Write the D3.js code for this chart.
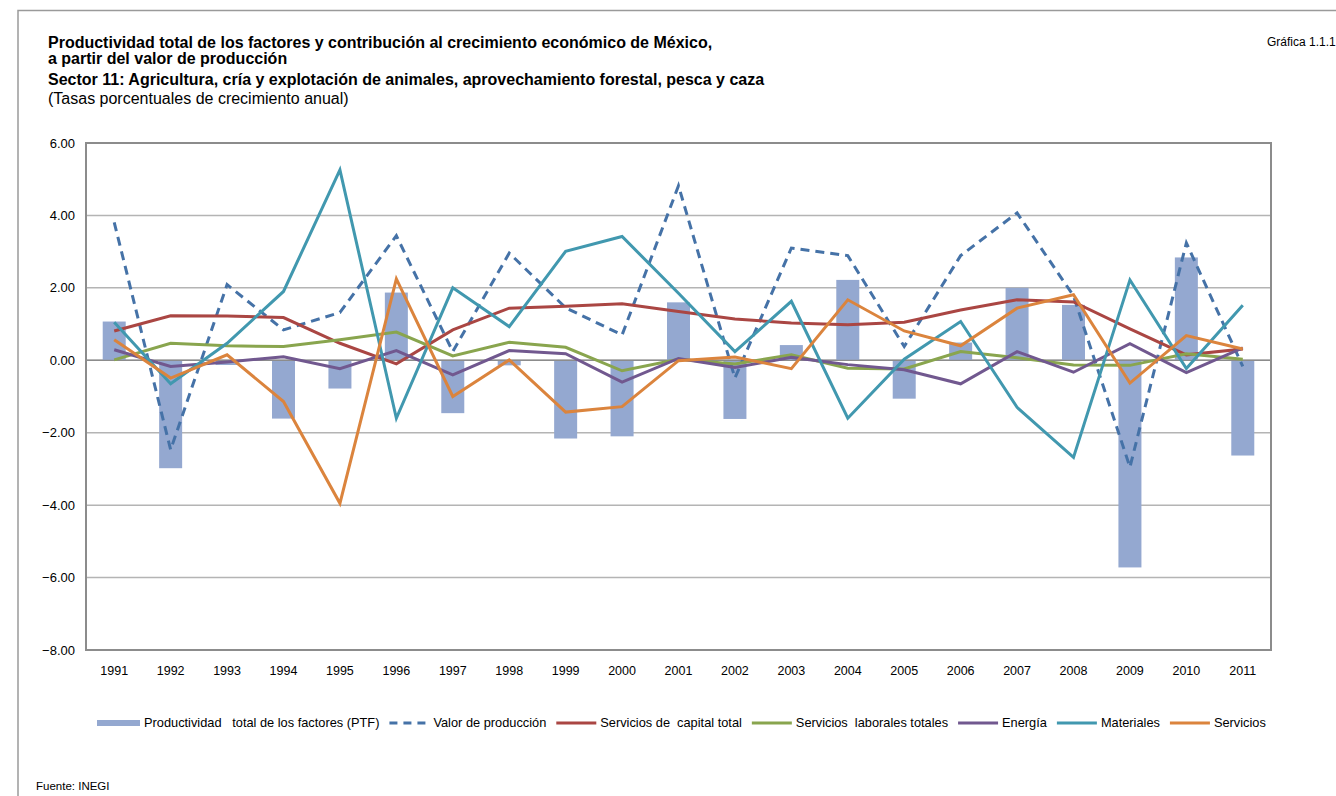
<!DOCTYPE html>
<html>
<head>
<meta charset="utf-8">
<script src="https://cdnjs.cloudflare.com/ajax/libs/d3/7.8.5/d3.min.js"></script>
<style>
  body { margin: 0; background: #fff; }
  text { font-family: "Liberation Sans", Arial, sans-serif; fill: #000; }
</style>
</head>
<body>
<script>
// data
var years = ["1991","1992","1993","1994","1995","1996","1997","1998","1999","2000","2001",
             "2002","2003","2004","2005","2006","2007","2008","2009","2010","2011"];

var ptf        = [1.07,-2.98,-0.13,-1.61,-0.78,1.87,-1.46,-0.14,-2.16,-2.10,1.60,
                  -1.62,0.42,2.22,-1.06,0.49,2.00,1.53,-5.72,2.84,-2.63];
var valorProd  = [3.81,-2.47,2.09,0.84,1.32,3.44,0.24,2.96,1.45,0.70,4.82,
                  -0.49,3.10,2.89,0.38,2.89,4.07,1.78,-2.95,3.24,-0.17];
var capital    = [0.81,1.23,1.22,1.18,0.47,-0.10,0.84,1.44,1.49,1.56,1.35,
                  1.14,1.03,0.98,1.05,1.39,1.67,1.61,0.87,0.15,0.31];
var laborales  = [0.01,0.47,0.40,0.38,0.57,0.78,0.12,0.50,0.36,-0.29,0.03,
                  -0.10,0.15,-0.22,-0.24,0.24,0.07,-0.13,-0.14,0.18,0.03];
var energia    = [0.29,-0.17,-0.05,0.10,-0.23,0.27,-0.40,0.27,0.18,-0.60,0.05,
                  -0.20,0.08,-0.12,-0.26,-0.65,0.24,-0.33,0.46,-0.34,0.34];
var materiales = [1.05,-0.65,0.47,1.90,5.26,-1.60,2.00,0.93,3.01,3.42,1.85,
                  0.24,1.63,-1.60,0.03,1.07,-1.30,-2.68,2.22,-0.23,1.52];
var servicios  = [0.57,-0.49,0.15,-1.14,-3.95,2.25,-1.00,0.01,-1.43,-1.28,-0.01,
                  0.09,-0.23,1.67,0.81,0.40,1.44,1.81,-0.63,0.68,0.31];

var yTicks = [6,4,2,0,-2,-4,-6,-8];

var lineSeries = [
  {name: "Valor de producción", values: valorProd, color: "#4572A7", dash: "9,6"},
  {name: "Servicios de  capital total", values: capital, color: "#AA4643", dash: null},
  {name: "Servicios  laborales totales", values: laborales, color: "#89A54E", dash: null},
  {name: "Energía", values: energia, color: "#71588F", dash: null},
  {name: "Materiales", values: materiales, color: "#4198AF", dash: null},
  {name: "Servicios", values: servicios, color: "#DB843D", dash: null}
];
var barName = "Productividad   total de los factores (PTF)";
var barColor = "#94A8D0";

var width = 1336, height = 796;
var margin = {top: 143, right: 65, bottom: 146, left: 86};

var svg = d3.select("body").append("svg")
    .attr("width", width)
    .attr("height", height);

// outer frame
svg.append("path")
    .attr("d", "M18," + height + "V10.5H" + width)
    .attr("fill", "none")
    .attr("stroke", "#9a9a9a")
    .attr("stroke-width", 1.5);

// titles
var titles = [
  {t: "Productividad total de los factores y contribución al crecimiento económico de México,", y: 48, b: true},
  {t: "a partir del valor de producción", y: 64, b: true},
  {t: "Sector 11: Agricultura, cría y explotación de animales, aprovechamiento forestal, pesca y caza", y: 85, b: true},
  {t: "(Tasas porcentuales de crecimiento anual)", y: 104, b: false}
];
svg.selectAll(".title").data(titles).enter().append("text")
    .attr("class", "title")
    .attr("x", 48)
    .attr("y", function(d) { return d.y; })
    .style("font-size", "16px")
    .style("font-weight", function(d) { return d.b ? "bold" : "normal"; })
    .text(function(d) { return d.t; });

svg.append("text")
    .attr("x", 1267).attr("y", 46)
    .style("font-size", "12px")
    .text("Gráfica 1.1.1");

svg.append("text")
    .attr("x", 36).attr("y", 790)
    .style("font-size", "11.5px")
    .text("Fuente: INEGI");

var x = d3.scaleBand()
    .domain(years)
    .range([margin.left, width - margin.right])
    .paddingInner(0)
    .paddingOuter(0);

var y = d3.scaleLinear()
    .domain([-8, 6])
    .range([height - margin.bottom, margin.top]);

var g = svg.append("g");

// gridlines
g.selectAll(".grid").data(yTicks.filter(function(d) { return d !== 6 && d !== -8; }))
  .enter().append("line")
    .attr("x1", margin.left).attr("x2", width - margin.right)
    .attr("y1", function(d) { return y(d); })
    .attr("y2", function(d) { return y(d); })
    .attr("stroke", function(d) { return d === 0 ? "#8c8c8c" : "#b4b4b4"; })
    .attr("stroke-width", 1.5);

// y tick labels
g.selectAll(".ylab").data(yTicks).enter().append("text")
    .attr("x", 75)
    .attr("y", function(d) { return y(d) + 4.5; })
    .attr("text-anchor", "end")
    .style("font-size", "13px")
    .text(function(d) { return d3.format(".2f")(d); });

// x labels
g.selectAll(".xlab").data(years).enter().append("text")
    .attr("x", function(d) { return x(d) + x.bandwidth() / 2; })
    .attr("y", y(-8) + 25)
    .attr("text-anchor", "middle")
    .style("font-size", "12.5px")
    .text(function(d) { return d; });

// bars
var barW = 23;
g.selectAll(".bar").data(ptf).enter().append("rect")
    .attr("x", function(d, i) { return x(years[i]) + x.bandwidth() / 2 - barW / 2; })
    .attr("y", function(d) { return d >= 0 ? y(d) : y(0); })
    .attr("width", barW)
    .attr("height", function(d) { return Math.abs(y(d) - y(0)); })
    .attr("fill", barColor);

// zero line above bars
g.append("line")
    .attr("x1", margin.left).attr("x2", width - margin.right)
    .attr("y1", y(0)).attr("y2", y(0))
    .attr("stroke", "#8c8c8c").attr("stroke-width", 1.2);

// lines
var line = d3.line()
    .x(function(d, i) { return x(years[i]) + x.bandwidth() / 2; })
    .y(function(d) { return y(d); });

g.selectAll(".series").data(lineSeries).enter().append("path")
    .attr("d", function(d) { return line(d.values); })
    .attr("fill", "none")
    .attr("stroke", function(d) { return d.color; })
    .attr("stroke-width", 3)
    .attr("stroke-linejoin", "miter")
    .attr("stroke-dasharray", function(d) { return d.dash; });

// plot frame
g.append("rect")
    .attr("x", margin.left).attr("y", margin.top)
    .attr("width", width - margin.right - margin.left)
    .attr("height", y(-8) - margin.top)
    .attr("fill", "none")
    .attr("stroke", "#8c8c8c")
    .attr("stroke-width", 2);

// legend
var legend = svg.append("g");
var lx = 97, ly = 723;
var items = [{name: barName, color: barColor, bar: true}].concat(lineSeries);
items.forEach(function(it) {
  if (it.bar) {
    legend.append("rect").attr("x", lx).attr("y", ly - 3).attr("width", 43).attr("height", 6)
        .attr("fill", it.color);
  } else {
    legend.append("line").attr("x1", lx).attr("x2", lx + 40).attr("y1", ly).attr("y2", ly)
        .attr("stroke", it.color).attr("stroke-width", 3)
        .attr("stroke-dasharray", it.dash ? "8,6" : null);
  }
  var sw = it.bar ? 43 : 40;
  var t = legend.append("text")
      .attr("x", lx + sw + 4).attr("y", ly + 4)
      .style("font-size", "12.8px")
      .style("white-space", "pre")
      .attr("xml:space", "preserve")
      .text(it.name);
  lx += sw + 4 + t.node().getComputedTextLength() + 10;
});
</script>
</body>
</html>
